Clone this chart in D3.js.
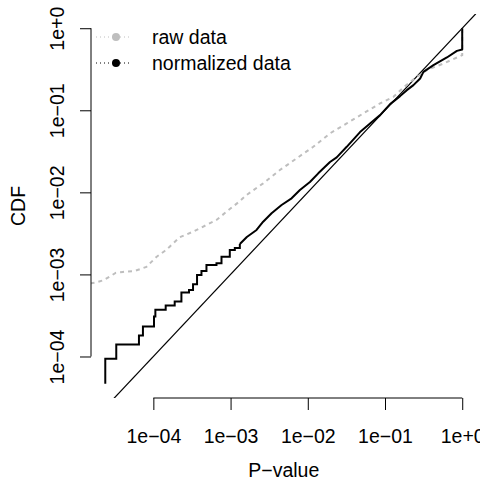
<!DOCTYPE html>
<html>
<head>
<meta charset="utf-8">
<script src="https://cdn.jsdelivr.net/npm/d3@7"></script>
<style>
  body { margin: 0; background: #fff; }
  svg { display: block; }
  text { font-family: "Liberation Sans", Arial, Helvetica, sans-serif; font-size: 19.5px; fill: #000; }
</style>
</head>
<body>
<div id="chart"></div>
<script>
// Normalized data, lower tail (discrete steps of the empirical CDF)
const normStepP   = [2.385e-5, 2.385e-5, 3.31e-5, 6.51e-5, 7.33e-5, 1.019e-4, 1.062e-4, 1.445e-4, 1.890e-4, 2.309e-4,
                     2.898e-4, 3.266e-4, 3.68e-4, 4.198e-4, 4.873e-4, 6.57e-4, 7.63e-4, 9.77e-4, 1.135e-3, 1.318e-3];
const normStepCdf = [4.65e-5, 9.37e-5, 1.399e-4, 1.80e-4, 2.317e-4, 3.067e-4, 3.70e-4, 4.173e-4, 4.67e-4, 6.01e-4,
                     6.48e-4, 7.60e-4, 9.86e-4, 1.103e-3, 1.305e-3, 1.369e-3, 1.647e-3, 1.987e-3, 2.102e-3, 2.35e-3];

// Normalized data, dense part
const normP   = [1.318e-3, 1.624e-3, 2.17e-3, 2.643e-3, 3.397e-3, 4.58e-3, 6.17e-3, 7.91e-3, 1.066e-2, 1.367e-2,
                 1.939e-2, 2.368e-2, 3.193e-2, 4.75e-2, 6.40e-2, 8.63e-2, 0.1164, 0.1569, 0.1917, 0.2334,
                 0.2851, 0.3147, 0.4242, 0.6331, 0.8535, 1, 1];
const normCdf = [2.35e-3, 2.86e-3, 3.48e-3, 4.39e-3, 5.56e-3, 7.01e-3, 8.46e-3, 1.068e-2, 1.336e-2, 1.705e-2,
                 2.34e-2, 2.67e-2, 3.59e-2, 5.43e-2, 6.92e-2, 8.73e-2, 0.1189, 0.1488, 0.1760, 0.2025,
                 0.2443, 0.2939, 0.3545, 0.4399, 0.5294, 0.5505, 1];

// Raw data
const rawP   = [1.537e-5, 1.785e-5, 2.22e-5, 2.71e-5, 3.245e-5, 4.035e-5, 5.72e-5, 8.12e-5, 1.095e-4, 1.402e-4,
                1.628e-4, 2.195e-4, 3.266e-4, 4.873e-4, 6.57e-4, 8.86e-4, 1.290e-3, 1.609e-3, 2.643e-3, 4.353e-3,
                7.17e-3, 1.177e-2, 1.939e-2, 3.193e-2, 5.24e-2, 8.63e-2, 0.1285, 0.1732, 0.2584, 0.3483,
                0.5721, 1, 1];
const rawCdf = [7.77e-4, 7.95e-4, 8.46e-4, 9.40e-4, 1.043e-3, 1.073e-3, 1.103e-3, 1.234e-3, 1.633e-3, 1.932e-3,
                2.18e-3, 2.836e-3, 3.32e-3, 4.004e-3, 4.607e-3, 5.81e-3, 7.69e-3, 9.28e-3, 1.288e-2, 1.870e-2,
                2.596e-2, 3.59e-2, 5.23e-2, 6.92e-2, 9.16e-2, 0.1213, 0.1458, 0.1898, 0.2555, 0.3083,
                0.3719, 0.4692, 1];

const tickValues = [1e-4, 1e-3, 1e-2, 1e-1, 1];
const tickLabels = ["1e\u221204", "1e\u221203", "1e\u221202", "1e\u221201", "1e+0"];

const legendLabels = ["raw data", "normalized data"];
const legendColors = ["#bebebe", "#000000"];

const width = 480;
const height = 482;
const plot = { left: 91, right: 476.5, top: 14, bottom: 398 };

const svg = d3.select("#chart")
    .append("svg")
    .attr("width", width)
    .attr("height", height);

// R style limits: extent of the normalized data, padded 4% in log space
function paddedDomain(values) {
    const [lo, hi] = d3.extent(values.map(Math.log10));
    const pad = (hi - lo) * 0.04;
    return [Math.pow(10, lo - pad), Math.pow(10, hi + pad)];
}

const x = d3.scaleLog()
    .domain(paddedDomain(normStepP.concat(normP)))
    .range([plot.left, plot.right]);

const y = d3.scaleLog()
    .domain(paddedDomain(normStepCdf.concat(normCdf)))
    .range([plot.bottom, plot.top]);

svg.append("clipPath")
    .attr("id", "plot-clip")
    .append("rect")
    .attr("x", plot.left)
    .attr("y", plot.top)
    .attr("width", plot.right - plot.left)
    .attr("height", plot.bottom - plot.top);

const g = svg.append("g").attr("clip-path", "url(#plot-clip)");

// Diagonal y = x
const diag = x.domain().concat(y.domain());
const diagExtent = [d3.min(diag), d3.max(diag)];
g.append("path")
    .datum(diagExtent)
    .attr("fill", "none")
    .attr("stroke", "#000")
    .attr("stroke-width", 1.2)
    .attr("d", d3.line().x(d => x(d)).y(d => y(d)));

// Raw data, dashed gray
g.append("path")
    .datum(rawP.map((p, i) => [p, rawCdf[i]]))
    .attr("fill", "none")
    .attr("stroke", "#bebebe")
    .attr("stroke-width", 2)
    .attr("stroke-dasharray", "4,4")
    .attr("d", d3.line().x(d => x(d[0])).y(d => y(d[1])));

// Normalized data: steps in the tail, then the dense part
g.append("path")
    .datum(normStepP.map((p, i) => [p, normStepCdf[i]]))
    .attr("fill", "none")
    .attr("stroke", "#000")
    .attr("stroke-width", 2)
    .attr("d", d3.line().x(d => x(d[0])).y(d => y(d[1])).curve(d3.curveStepAfter));

g.append("path")
    .datum(normP.map((p, i) => [p, normCdf[i]]))
    .attr("fill", "none")
    .attr("stroke", "#000")
    .attr("stroke-width", 2)
    .attr("stroke-linejoin", "round")
    .attr("d", d3.line().x(d => x(d[0])).y(d => y(d[1])));

// Axes (R style: line spans first to last tick, no box)
const xAxis = svg.append("g")
    .attr("transform", `translate(0,${plot.bottom})`)
    .call(d3.axisBottom(x).tickValues(tickValues).tickFormat((d, i) => tickLabels[i]).tickSize(12).tickPadding(19));
xAxis.select(".domain").remove();
xAxis.append("line")
    .attr("x1", x(tickValues[0]))
    .attr("x2", x(tickValues[tickValues.length - 1]))
    .attr("stroke", "#000");
xAxis.selectAll("text")
    .attr("fill", "#000")
    .style("font-size", "19.5px")
    .style("font-family", "'Liberation Sans', Arial, sans-serif");

const yAxis = svg.append("g")
    .attr("transform", `translate(${plot.left},0)`)
    .call(d3.axisLeft(y).tickValues(tickValues).tickFormat((d, i) => tickLabels[i]).tickSize(11));
yAxis.select(".domain").remove();
yAxis.append("line")
    .attr("y1", y(tickValues[0]))
    .attr("y2", y(tickValues[tickValues.length - 1]))
    .attr("stroke", "#000");
yAxis.selectAll(".tick text")
    .attr("x", null)
    .attr("dy", null)
    .attr("text-anchor", "middle")
    .attr("fill", "#000")
    .attr("transform", "translate(-27.5,0) rotate(-90)")
    .style("font-size", "19.5px")
    .style("font-family", "'Liberation Sans', Arial, sans-serif");

// Axis titles
svg.append("text")
    .attr("x", (plot.left + plot.right) / 2)
    .attr("y", 477)
    .attr("text-anchor", "middle")
    .text("P\u2212value");

svg.append("text")
    .attr("transform", `translate(25,${(plot.top + plot.bottom) / 2}) rotate(-90)`)
    .attr("text-anchor", "middle")
    .text("CDF");

// Legend
const legend = svg.append("g");
legendLabels.forEach((label, i) => {
    const ly = 37 + i * 26;
    legend.append("line")
        .attr("x1", 96).attr("x2", 130)
        .attr("y1", ly).attr("y2", ly)
        .attr("stroke", legendColors[i])
        .attr("stroke-dasharray", "1,3");
    legend.append("circle")
        .attr("cx", 116).attr("cy", ly)
        .attr("r", 4)
        .attr("fill", legendColors[i]);
    legend.append("text")
        .attr("x", 152)
        .attr("y", ly + 7)
        .text(label);
});
</script>
</body>
</html>
